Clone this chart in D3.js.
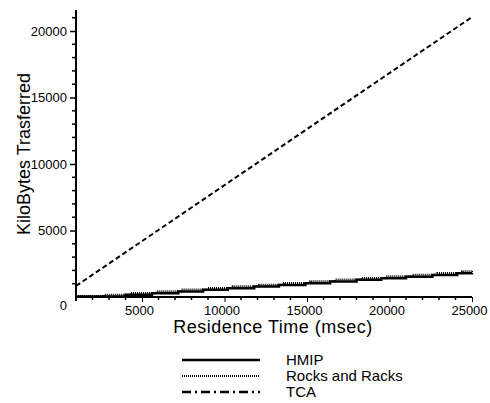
<!DOCTYPE html>
<html>
<head>
<meta charset="utf-8">
<script src="https://cdn.jsdelivr.net/npm/d3@7"></script>
<style>
  body { margin: 0; background: #fff; }
  text { font-family: "Liberation Sans", Arial, sans-serif; fill: #000; }
  .tick text { font-size: 13px; }
  .title { font-size: 18px; }
  .legend text { font-size: 15px; }
</style>
</head>
<body>
<div class="container"></div>
<script>
// residence time (msec) / kilobytes transferred
let hmipTime  = [1000, 4000, 5600, 7200, 8700, 10200, 11800, 13300, 14900, 16400, 18000, 19500, 21000, 22600, 24100, 25000];
let hmipKB    = [30, 160, 290, 420, 540, 660, 790, 910, 1040, 1160, 1290, 1410, 1530, 1660, 1780, 1800];
let rocksTime = [1000, 2700, 4300, 5900, 7400, 9000, 10500, 12100, 13600, 15200, 16700, 18300, 19800, 21400, 22900, 24400, 25000];
let rocksKB   = [80, 170, 300, 430, 560, 680, 810, 930, 1060, 1180, 1310, 1430, 1560, 1680, 1810, 1930, 1950];
let tcaTime   = [1000, 25000];
let tcaKB     = [830, 21050];
let xTicks = [5000, 10000, 15000, 20000, 25000];
let yTicks = [0, 5000, 10000, 15000, 20000];
let legendNames = ["HMIP", "Rocks and Racks", "TCA"];

let width = 490, height = 403;

let svg = d3.select(".container").append("svg")
    .attr("width", width)
    .attr("height", height);

let x = d3.scaleLinear().domain([1000, 25000]).range([76, 472]);
let y = d3.scaleLinear().domain([0, 21580]).range([297, 10]);

// minor ticks every 1000
let minorX = d3.range(2000, 25001, 1000);
let minorY = d3.range(1000, 21001, 1000);

let xAxis = svg.append("g")
    .attr("transform", "translate(0," + y(0) + ")")
    .call(d3.axisBottom(x).tickValues(xTicks).tickFormat(d3.format("d")).tickSize(5).tickPadding(4));
xAxis.select(".domain").attr("stroke-width", 2).attr("d", "M" + x(1000) + ",0H" + x(25000));
xAxis.selectAll(".tick text").attr("dx", "-3");

svg.append("g")
    .attr("transform", "translate(0," + y(0) + ")")
  .selectAll("line")
  .data(minorX.filter(d => xTicks.indexOf(d) < 0))
  .enter().append("line")
    .attr("x1", d => x(d)).attr("x2", d => x(d))
    .attr("y1", 0).attr("y2", 3)
    .attr("stroke", "#000").attr("stroke-width", 1.5);

let yAxis = svg.append("g")
    .attr("transform", "translate(" + x(1000) + ",0)")
    .call(d3.axisLeft(y).tickValues(yTicks).tickFormat(d3.format("d")).tickSize(6).tickPadding(3));
yAxis.select(".domain").attr("stroke-width", 2).attr("d", "M0," + y(21580) + "V" + (y(0) + 4));
yAxis.selectAll(".tick line").attr("x2", -6).attr("x1", 1).attr("stroke-width", 1.5);
yAxis.selectAll(".tick").filter(d => d == 0).select("text").attr("dy", "0.95em").attr("x", -9);
yAxis.selectAll(".tick").filter(d => d == 0).select("line").remove();

svg.append("g")
    .attr("transform", "translate(" + x(1000) + ",0)")
  .selectAll("line")
  .data(minorY.filter(d => yTicks.indexOf(d) < 0))
  .enter().append("line")
    .attr("x1", -4).attr("x2", 1)
    .attr("y1", d => y(d)).attr("y2", d => y(d))
    .attr("stroke", "#000").attr("stroke-width", 1.5);

let stepLine = d3.line()
    .x(d => x(d[0]))
    .y(d => y(d[1]))
    .curve(d3.curveStepAfter);

let straight = d3.line()
    .x(d => x(d[0]))
    .y(d => y(d[1]));

svg.append("path")
    .datum(d3.zip(rocksTime, rocksKB))
    .attr("d", stepLine)
    .attr("fill", "none")
    .attr("stroke", "#000")
    .attr("stroke-width", 2)
    .attr("stroke-dasharray", "1,1");

svg.append("path")
    .datum(d3.zip(hmipTime, hmipKB))
    .attr("d", stepLine)
    .attr("fill", "none")
    .attr("stroke", "#000")
    .attr("stroke-width", 2.5);

svg.append("path")
    .datum(d3.zip(tcaTime, tcaKB))
    .attr("d", straight)
    .attr("fill", "none")
    .attr("stroke", "#000")
    .attr("stroke-width", 2)
    .attr("stroke-dasharray", "5,3");

svg.append("text")
    .attr("class", "title")
    .attr("text-anchor", "middle")
    .attr("x", 273)
    .attr("y", 333)
    .style("letter-spacing", "0.5px")
    .text("Residence Time (msec)");

svg.append("text")
    .attr("class", "title")
    .attr("text-anchor", "middle")
    .attr("transform", "translate(30,154) rotate(-90)")
    .text("KiloBytes Trasferred");

// legend
let legendY = [360, 376, 392];
let legendDash = [null, "1,1", "9,4,2,4"];
let legendWidth = [2.5, 2, 2.5];
let legend = svg.append("g").attr("class", "legend");
legendNames.forEach((name, i) => {
  legend.append("line")
    .attr("x1", 182).attr("x2", 260)
    .attr("y1", legendY[i]).attr("y2", legendY[i])
    .attr("stroke", "#000")
    .attr("stroke-width", legendWidth[i])
    .attr("stroke-dasharray", legendDash[i]);
  legend.append("text")
    .attr("x", 286)
    .attr("y", legendY[i] + 5)
    .text(name);
});
</script>
</body>
</html>
